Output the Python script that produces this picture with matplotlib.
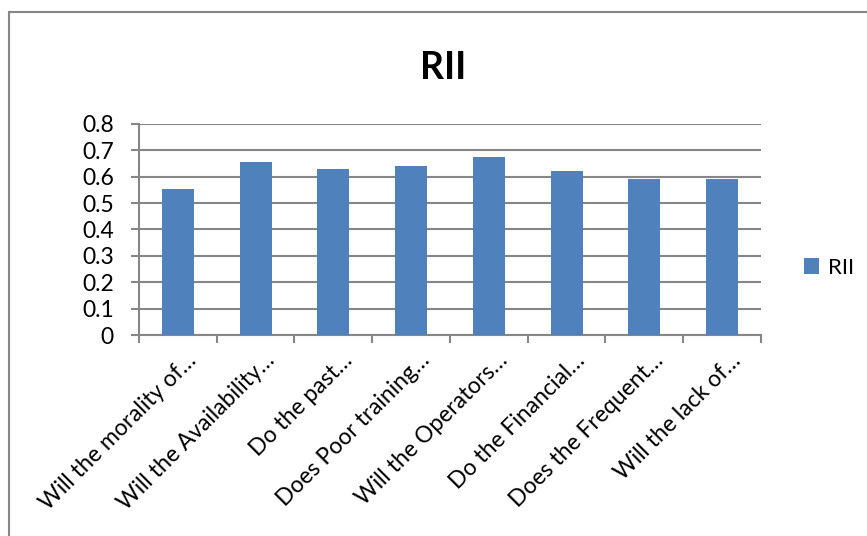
import matplotlib
matplotlib.use('Agg')
import matplotlib.pyplot as plt
from matplotlib.patches import Rectangle
import numpy as np

# Data
categories = ['Will the morality of…', 'Will the Availability…', 'Do the past…',
              'Does Poor training…', 'Will the Operators…', 'Do the Financial…',
              'Does the Frequent…', 'Will the lack of…']
rii_values = [0.554, 0.657, 0.630, 0.642, 0.676, 0.623, 0.592, 0.592]
y_ticks = [0, 0.1, 0.2, 0.3, 0.4, 0.5, 0.6, 0.7, 0.8]

plt.rcParams['font.family'] = ['Lato', 'DejaVu Sans']

fig = plt.figure(figsize=(8.67, 5.36), dpi=100)
ax = fig.add_axes([0.1603, 0.375, 0.7174, 0.3937])

x = np.arange(len(categories))
ax.bar(x, rii_values, width=0.41, color='#4F81BD', label='RII', zorder=3)

# Axes styling (Excel-like)
ax.set_xlim(-0.5, len(categories) - 0.5)
ax.set_ylim(0, 0.8)
ax.set_yticks(y_ticks)
ax.set_yticklabels(['0' if v == 0 else f'{v:.1f}' for v in y_ticks], fontsize=16.5)
ax.yaxis.grid(True, color='#868686', linewidth=1.5, zorder=0)
ax.tick_params(axis='y', length=6, width=1.5, color='#868686', pad=12)

ax.set_xticks(np.arange(-0.5, len(categories), 1.0))
ax.set_xticklabels([])
ax.tick_params(axis='x', length=6, width=1.5, color='#868686')
for i, label in enumerate(categories):
    ax.annotate(label, xy=(i, 0), xycoords=('data', 'axes fraction'),
                xytext=(11, -16), textcoords='offset points',
                rotation=45, rotation_mode='anchor', ha='right', va='center',
                fontsize=16.5)

for side in ['top', 'right']:
    ax.spines[side].set_visible(False)
ax.spines['left'].set_color('#868686')
ax.spines['bottom'].set_color('#868686')
ax.spines['left'].set_linewidth(1.5)
ax.spines['bottom'].set_linewidth(1.5)

fig.text(0.511, 0.873, 'RII', fontsize=27, fontweight='bold', ha='center', va='center')

ax.legend(loc='center left', bbox_to_anchor=(0.904, 0.5), bbox_transform=fig.transFigure,
          frameon=False, fontsize=16, handlelength=0.7, handleheight=0.7, handletextpad=0.4)

# Chart frame extending beyond the canvas on the right and bottom
fig.patches.append(Rectangle((9 / 867, -0.1), 1.2, 1 - 12 / 536 + 0.1,
                             transform=fig.transFigure, fill=False,
                             edgecolor='#868686', linewidth=1.5))

fig.savefig('out.png', dpi=100)
